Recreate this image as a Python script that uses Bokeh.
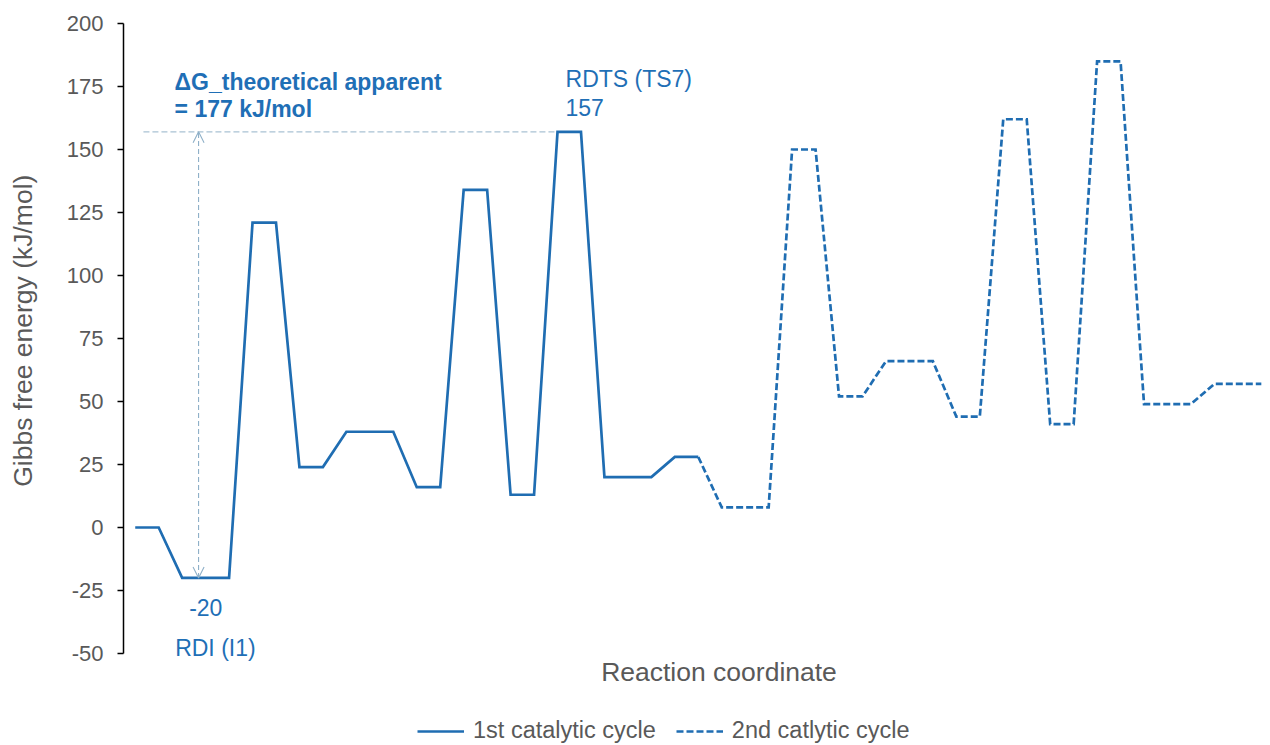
import math
from bokeh.plotting import figure
from bokeh.layouts import row
from bokeh.models import (Range1d, FixedTicker, Label, Arrow, OpenHead,
                          Legend, LegendItem, PrintfTickFormatter)
from bokeh.embed import file_html
from bokeh.resources import INLINE

# Gibbs free energy profile (kJ/mol), one value per point along the reaction coordinate
energy_cycle1 = [0, 0, -20, -20, -20, 121, 121, 24, 24, 38, 38, 38, 16, 16,
                 134, 134, 13, 13, 157, 157, 20, 20, 20, 28, 28]
energy_cycle2 = [28, 8, 8, 8, 150, 150, 52, 52, 66, 66, 66, 44, 44, 162, 162,
                 41, 41, 185, 185, 49, 49, 49, 57, 57, 57]
cycle2_start = len(energy_cycle1) - 1          # second cycle continues from the last point
coord_cycle1 = list(range(len(energy_cycle1)))
coord_cycle2 = list(range(cycle2_start, cycle2_start + len(energy_cycle2)))

y_ticks = [-50, -25, 0, 25, 50, 75, 100, 125, 150, 175, 200]
series_names = ["1st catalytic cycle", "2nd catlytic cycle"]
rdi_name = "RDI (I1)"
rdts_name = "RDTS (TS7)"

BLUE = "#1f6db2"
TEXT_BLUE = "#1f6fb6"
GREY = "#595959"
GUIDE = "#a9c2d4"
FONT = "Liberation Sans"

W, H = 1270, 745
TITLE_W = 50                                   # strip holding the y title

# rate-determining intermediate and transition state of the first cycle
rdi_idx = min(range(len(energy_cycle1)), key=lambda i: energy_cycle1[i])
rdts_idx = max(range(len(energy_cycle1)), key=lambda i: energy_cycle1[i])
e_rdi = energy_cycle1[rdi_idx]
e_rdts = energy_cycle1[rdts_idx]
delta_g = e_rdts - e_rdi

# narrow strip on the left with the rotated y title, centred on the -50..200 span
strip = figure(width=TITLE_W, height=H, x_range=Range1d(0, TITLE_W),
               y_range=Range1d(0, H), x_axis_location=None,
               y_axis_location=None, output_backend="svg",
               toolbar_location=None, min_border=0)
strip.outline_line_color = None
strip.grid.visible = False
strip.add_layout(Label(x=22, y=H - 317, angle=math.pi / 2,
                       text="Gibbs free energy (kJ/mol)", text_font=FONT,
                       text_font_size="26.5px", text_color=GREY,
                       text_align="center", text_baseline="middle"))

# main chart: the frame runs to the bottom of the canvas so that the notes,
# the x title and the legend below the -50 line stay visible
p = figure(width=W - TITLE_W, height=H,
           x_range=Range1d(-0.5, 48.05), y_range=Range1d(-86.5, 200),
           x_axis_location=None, output_backend="svg", toolbar_location=None,
           min_border_left=123 - TITLE_W, min_border_right=8,
           min_border_top=23, min_border_bottom=0)
p.outline_line_color = None
p.grid.visible = False
p.background_fill_color = "white"
p.border_fill_color = "white"

yax = p.yaxis[0]
yax.bounds = (y_ticks[0], y_ticks[-1])
yax.ticker = FixedTicker(ticks=y_ticks)
yax.formatter = PrintfTickFormatter(format="%d")
yax.minor_tick_line_color = None
yax.axis_line_color = "#000000"
yax.axis_line_width = 1.5
yax.major_tick_line_color = "#000000"
yax.major_tick_line_width = 1.5
yax.major_tick_in = 0
yax.major_tick_out = 6
yax.major_label_standoff = 14
yax.major_label_text_font = FONT
yax.major_label_text_font_size = "22px"
yax.major_label_text_color = GREY

# guide lines for the apparent barrier
p.segment(x0=[0.35], y0=[e_rdts], x1=[rdts_idx], y1=[e_rdts],
          line_color=GUIDE, line_width=1.2, line_dash="6 3")
p.add_layout(Arrow(x_start=2.7, y_start=e_rdi, x_end=2.7, y_end=e_rdts,
                   line_color="#8fb0c8", line_width=1.1, line_dash="5 3",
                   start=OpenHead(size=11, line_color="#8fb0c8", line_width=1.1),
                   end=OpenHead(size=11, line_color="#8fb0c8", line_width=1.1)))

r1 = p.line(coord_cycle1, energy_cycle1, line_color=BLUE, line_width=2.7,
            line_join="miter")
r2 = p.line(coord_cycle2, energy_cycle2, line_color=BLUE, line_width=2.7,
            line_dash="7 3", line_join="miter")

def note(text, x, y, dx, dy, size="23px", style="normal"):
    p.add_layout(Label(x=x, y=y, x_offset=dx, y_offset=dy, text=text,
                       text_font=FONT, text_font_size=size,
                       text_font_style=style, text_color=TEXT_BLUE,
                       text_align="left", text_baseline="alphabetic"))

note(rdts_name, rdts_idx, e_rdts, 8, 53)
note(f"{e_rdts:g}", rdts_idx, e_rdts, 8, 24.5)
note(f"{e_rdi:g}", rdi_idx, e_rdi, 7, -30)
note(rdi_name, rdi_idx, e_rdi, -7, -70.5)
note("\u0394G_theoretical apparent", 2.7, e_rdts, -24, 50, style="bold")
note(f"= {delta_g:g} kJ/mol", 2.7, e_rdts, -24, 22.5, style="bold")

# x title under the -50 line
p.add_layout(Label(x=(p.x_range.start + p.x_range.end) / 2, y=y_ticks[0],
                   x_offset=26, y_offset=-18, text="Reaction coordinate",
                   text_font=FONT, text_font_size="26.5px", text_color=GREY,
                   text_align="center", text_baseline="alphabetic"))

legend = Legend(items=[LegendItem(label=series_names[0], renderers=[r1]),
                       LegendItem(label=series_names[1], renderers=[r2])],
                orientation="horizontal", location=(294, 1),
                glyph_width=47, glyph_height=20, label_standoff=9, spacing=20,
                padding=0, margin=0, border_line_alpha=0,
                background_fill_alpha=0,
                label_text_font=FONT, label_text_font_size="23.5px",
                label_text_color=GREY)
p.add_layout(legend)

open("out.html", "w").write(file_html(row(strip, p), INLINE))
